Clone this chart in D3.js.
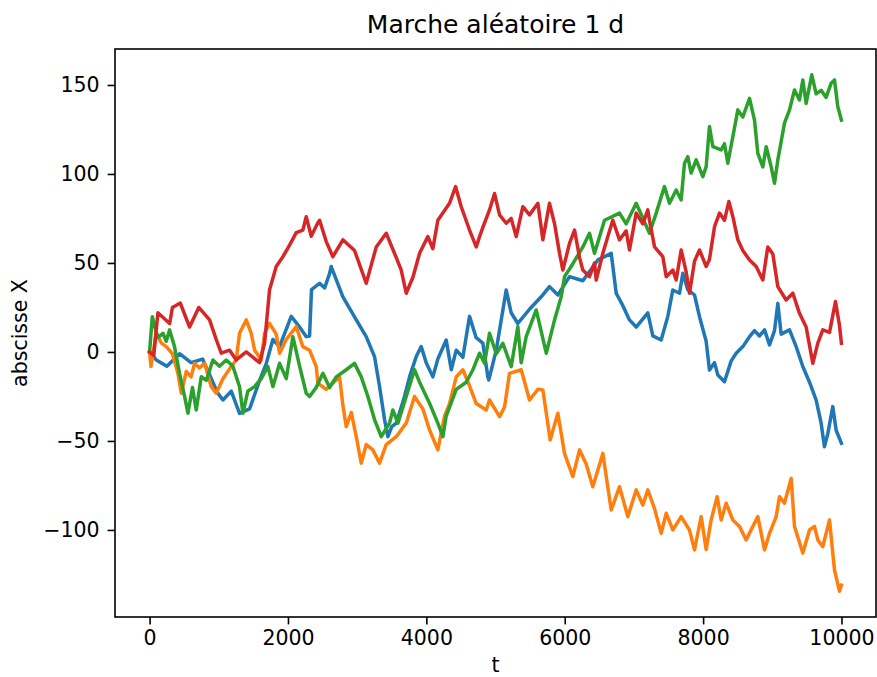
<!DOCTYPE html>
<html>
<head>
<meta charset="utf-8">
<script src="https://cdn.jsdelivr.net/npm/d3@7"></script>
<style>
  body { margin: 0; background: #fff; }
  text { font-family: "DejaVu Sans", sans-serif; fill: #000; }
</style>
</head>
<body>
<div id="chart"></div>
<script>
// values, [t, X]
var blue = [[0,0],[96,-4.5],[250,-8],[433,-1],[600,-6],[766,-4],[983,-23],[1060,-27],[1180,-22],[1300,-34.5],[1445,-32],[1590,-16],[1686,-6.5],[1782,7],[1878,3],[2047,20],[2168,14],[2264,8.6],[2312,9],[2340,35],[2457,38.6],[2530,36],[2601,44],[2625,48],[2794,31],[2987,18],[3131,8.6],[3251,-2.6],[3324,-19.5],[3396,-38],[3444,-47.6],[3500,-42],[3565,-40],[3685,-25],[3757,-14],[3854,-2.6],[3926,3],[3998,-6],[4094,-14],[4166,-4],[4287,6.7],[4360,-10],[4432,1],[4528,-3],[4624,20],[4720,8],[4816,5],[4889,-14],[4903,-15.7],[5010,1],[5154,34.8],[5226,22],[5322,16],[5491,24],[5660,31],[5780,36.7],[5901,32],[6069,42.3],[6262,40],[6479,51.7],[6672,55.4],[6744,33],[6840,26],[6936,18],[7033,14],[7201,22],[7273,9],[7394,6.7],[7490,20],[7562,34.8],[7659,33],[7707,44.2],[7779,35],[7876,32],[7948,19.8],[8044,6],[8092,-10.1],[8165,-6],[8213,-13],[8309,-16.7],[8406,-5],[8478,-0.7],[8574,3],[8671,8.6],[8743,12],[8815,9],[8888,12.4],[8960,4],[9032,12],[9080,27.3],[9128,10],[9249,12.4],[9345,3],[9441,-8.2],[9538,-17],[9634,-27],[9706,-40],[9754,-53.2],[9802,-46],[9874,-30.7],[9923,-44],[9999,-51.3]];

var orange = [[0,0],[20,-8.2],[96,10.5],[170,5],[241,3],[330,-1],[409,-12],[458,-23.2],[530,-11],[600,-14],[650,-6.4],[720,-9],[795,-6.4],[891,-19.5],[963,-23.2],[1060,-15],[1180,-8.2],[1252,-4.5],[1300,10.5],[1397,18],[1469,10.5],[1517,1.1],[1614,-4.5],[1662,10.5],[1734,16.1],[1830,10],[1879,-0.7],[1975,7],[2120,14.2],[2215,3],[2312,1],[2409,-8.2],[2432,-17.6],[2553,-21],[2746,-14],[2794,-30],[2842,-42],[2915,-34],[2987,-47.6],[3059,-62.5],[3131,-52],[3227,-55],[3324,-62.5],[3420,-52],[3565,-47.6],[3709,-40],[3829,-25],[3950,-32],[4046,-43.8],[4166,-55],[4263,-36],[4335,-29],[4432,-14],[4528,-10],[4624,-19],[4721,-29],[4865,-32.6],[4913,-27],[5058,-36.3],[5130,-31],[5202,-12],[5371,-10],[5491,-27],[5612,-21],[5684,-21.3],[5790,-49.4],[5901,-34.4],[5997,-57],[6117,-70],[6214,-55],[6310,-63],[6406,-75.7],[6551,-57],[6672,-88.8],[6792,-75.7],[6912,-92.5],[7033,-77.5],[7129,-86],[7201,-77.5],[7298,-88],[7394,-101.9],[7467,-90.6],[7562,-100],[7683,-92.5],[7803,-100],[7876,-111.2],[7972,-92.5],[8044,-111],[8116,-94.4],[8203,-81.3],[8261,-94.4],[8333,-85],[8430,-94.4],[8526,-98],[8622,-105.6],[8719,-98],[8791,-92.5],[8888,-111.2],[8960,-101.9],[9056,-92.5],[9104,-81.3],[9176,-85],[9273,-71],[9321,-98],[9441,-113],[9538,-100],[9610,-98],[9658,-105.6],[9730,-109.4],[9827,-94.4],[9899,-122.5],[9971,-134.4],[9999,-131]];

var green = [[0,0],[39,19.8],[120,8],[193,10.5],[240,6],[289,12.4],[360,3],[433,-12],[506,-25],[554,-34.4],[620,-20],[674,-32.6],[747,-13.9],[820,-16],[915,-4.5],[1010,-8],[1108,-4.5],[1204,-8],[1300,-19.5],[1349,-34.4],[1420,-22],[1517,-19.5],[1614,-15],[1710,-8.2],[1782,-19.5],[1879,-6.4],[1975,-15],[2071,8.6],[2168,-8],[2264,-23.2],[2312,-25],[2408,-20],[2505,-12],[2601,-20],[2698,-14],[2842,-10],[2962,-6.4],[3059,-14],[3155,-25],[3251,-38],[3348,-47.6],[3468,-40],[3516,-32.6],[3589,-40],[3709,-25],[3829,-10],[3902,-17],[4046,-28.8],[4166,-40],[4239,-47.6],[4287,-36],[4432,-21],[4576,-17],[4673,-10],[4769,-0.7],[4841,-6.4],[4913,10.5],[5010,-1],[5106,4.9],[5227,-8.2],[5322,14.2],[5371,-6],[5443,8.6],[5588,23.6],[5733,-0.7],[5853,18],[5949,31],[5997,42.3],[6093,48],[6262,59],[6358,66.7],[6431,55.4],[6575,74],[6792,78],[6888,72],[7033,83.5],[7225,66.7],[7322,78],[7442,92.9],[7514,83.5],[7611,91],[7683,85.4],[7731,106],[7779,109.7],[7827,100.5],[7900,107.9],[7996,98.5],[8044,104],[8092,126.6],[8141,115.3],[8261,113.5],[8309,117],[8357,106],[8430,121],[8502,136],[8574,132],[8671,142.5],[8743,130.3],[8791,111.6],[8863,104],[8912,115.3],[8984,104],[9032,94.8],[9080,107.9],[9176,128.5],[9249,136],[9321,147.2],[9393,141.6],[9441,152.8],[9489,139.7],[9571,155.7],[9634,145],[9706,147],[9778,143],[9851,151],[9899,152.8],[9947,137.8],[9999,130.3]];

var red = [[0,0],[60,-2],[120,22],[290,16],[330,25],[443,27.5],[578,14],[711,25],[867,18],[963,7],[1036,-0.7],[1156,1],[1252,-4.5],[1397,0],[1590,-6],[1662,5],[1734,35],[1830,48],[1927,53.5],[2023,60],[2120,67],[2215,68.5],[2264,76],[2336,65],[2430,72.5],[2457,74],[2553,62],[2649,53.5],[2794,63],[2962,57],[3131,38.6],[3276,59],[3420,66.7],[3565,53],[3637,46],[3709,33],[3806,42],[3902,55.4],[4022,64.8],[4094,58],[4166,74],[4335,83.5],[4422,92.9],[4504,81.6],[4624,68.5],[4721,59],[4769,64.8],[4817,70],[4913,79.8],[4986,89],[5058,77],[5154,72.3],[5226,75],[5299,64.8],[5395,81.6],[5491,77],[5612,83.5],[5684,63],[5780,83.5],[5853,72],[5925,55.4],[5973,46],[6069,61],[6142,68.5],[6214,53],[6262,46],[6358,42.3],[6431,50],[6455,40.4],[6551,55.4],[6623,64.8],[6695,74],[6792,63],[6888,68],[6936,57.3],[7033,78],[7129,72],[7201,79.8],[7225,74],[7298,59],[7418,53.5],[7467,42.3],[7563,46],[7611,40.4],[7683,57.3],[7755,45],[7803,33],[7876,51],[7948,57.3],[8044,48],[8092,52],[8165,70.4],[8237,78],[8309,74],[8372,84.5],[8430,76],[8502,63],[8574,57],[8671,51.7],[8767,48],[8863,40.4],[8935,59],[9008,55],[9080,36.7],[9200,29.2],[9297,33],[9393,21.7],[9489,14],[9586,-6.4],[9658,5],[9730,12.4],[9827,11],[9913,28.3],[9971,15],[9999,4.9]];

var seriesNames = ["blue", "orange", "green", "red"];
var seriesColors = ["#1f77b4", "#ff7f0e", "#2ca02c", "#d62728"];
var xTicks = [0, 2000, 4000, 6000, 8000, 10000];
var yTicks = [-100, -50, 0, 50, 100, 150];

var width = 877;
var height = 677;
var margin = {top: 49, right: 1, bottom: 60, left: 115};

var svg = d3.select("#chart").append("svg")
    .attr("width", width)
    .attr("height", height);

var all = blue.concat(orange, green, red);
var tExt = d3.extent(all, function(d) { return d[0]; });
var vExt = d3.extent(all, function(d) { return d[1]; });
var tPad = (tExt[1] - tExt[0]) * 0.05;
var vPad = (vExt[1] - vExt[0]) * 0.05;

var x = d3.scaleLinear()
    .domain([tExt[0] - tPad, tExt[1] + tPad])
    .range([margin.left, width - margin.right]);

var y = d3.scaleLinear()
    .domain([vExt[0] - vPad, vExt[1] + vPad])
    .range([height - margin.bottom, margin.top]);

var line = d3.line()
    .x(function(d) { return x(d[0]); })
    .y(function(d) { return y(d[1]); });

[blue, orange, green, red].forEach(function(s, i) {
    svg.append("path")
        .datum(s)
        .attr("class", "walk " + seriesNames[i])
        .attr("fill", "none")
        .attr("stroke", seriesColors[i])
        .attr("stroke-width", 3.5)
        .attr("stroke-linejoin", "round")
        .attr("stroke-linecap", "square")
        .attr("d", line);
});

// axes
var xAxis = svg.append("g")
    .attr("transform", "translate(0," + (height - margin.bottom) + ")")
    .call(d3.axisBottom(x).tickValues(xTicks).tickFormat(d3.format("d"))
        .tickSizeOuter(0).tickSize(7.4).tickPadding(6));

var yAxis = svg.append("g")
    .attr("transform", "translate(" + margin.left + ",0)")
    .call(d3.axisLeft(y).tickValues(yTicks).tickFormat(function(d) { return d < 0 ? "\u2212" + Math.abs(d) : d; })
        .tickSizeOuter(0).tickSize(7.4).tickPadding(8));

[xAxis, yAxis].forEach(function(a) {
    a.select(".domain").remove();
    a.selectAll(".tick line").attr("stroke", "#000").attr("stroke-width", 1.6);
    a.selectAll(".tick text")
        .style("font-family", "DejaVu Sans")
        .style("font-size", "20.5px")
        .attr("fill", "#000");
});

svg.append("rect")
    .attr("x", margin.left)
    .attr("y", margin.top)
    .attr("width", width - margin.right - margin.left)
    .attr("height", height - margin.bottom - margin.top)
    .attr("fill", "none")
    .attr("stroke", "#000")
    .attr("stroke-width", 1.6);

svg.append("text")
    .attr("x", (margin.left + width - margin.right) / 2)
    .attr("y", 33)
    .attr("text-anchor", "middle")
    .style("font-size", "25px")
    .text("Marche aléatoire 1 d");

svg.append("text")
    .attr("x", (margin.left + width - margin.right) / 2)
    .attr("y", 672)
    .attr("text-anchor", "middle")
    .style("font-size", "20.5px")
    .text("t");

svg.append("text")
    .attr("transform", "translate(27," + ((margin.top + height - margin.bottom) / 2) + ") rotate(-90)")
    .attr("text-anchor", "middle")
    .style("font-size", "20.5px")
    .text("abscisse X");
</script>
</body>
</html>
